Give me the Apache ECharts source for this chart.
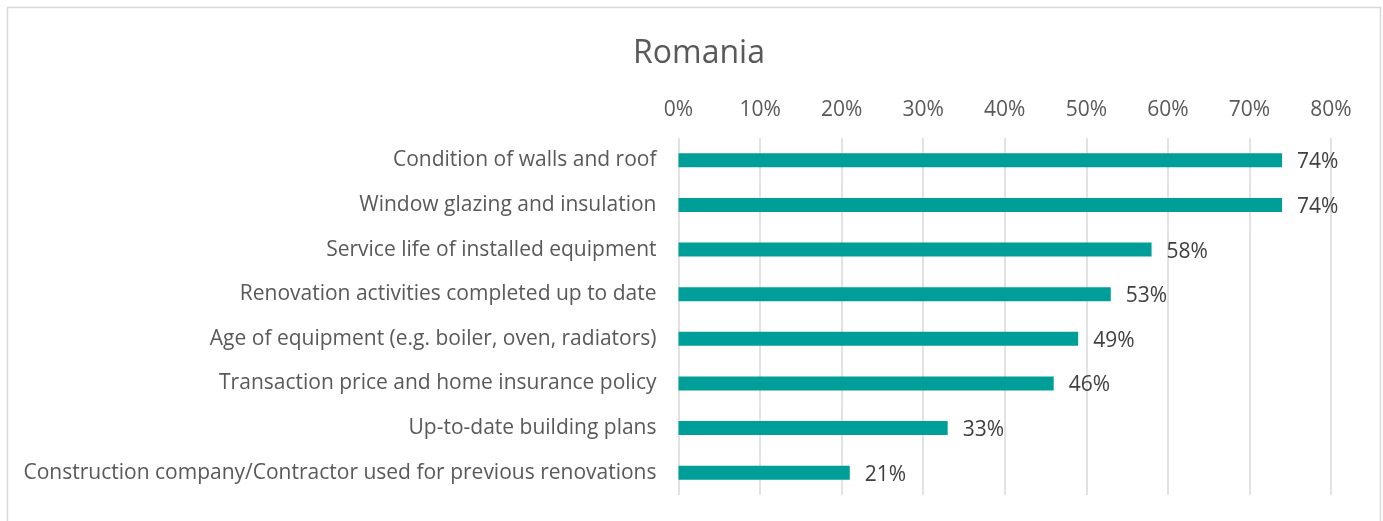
<!DOCTYPE html>
<html>
<head>
<meta charset="utf-8">
<style>
  html, body { margin: 0; padding: 0; background: #fff; }
  #chart { width: 1383px; height: 521px; }
</style>
<script src="https://cdn.jsdelivr.net/npm/echarts@6/dist/echarts.min.js"></script>
</head>
<body>
<div id="chart"></div>
<script>
// Factors considered, top to bottom
const categories = [
  'Condition of walls and roof',
  'Window glazing and insulation',
  'Service life of installed equipment',
  'Renovation activities completed up to date',
  'Age of equipment (e.g. boiler, oven, radiators)',
  'Transaction price and home insurance policy',
  'Up-to-date building plans',
  'Construction company/Contractor used for previous renovations'
];
// Share of respondents, percent
const shares = [74, 74, 58, 53, 49, 46, 33, 21];
// Value axis ticks, percent
const tickValues = [0, 10, 20, 30, 40, 50, 60, 70, 80];

const FONT = 'Open Sans';
const chart = echarts.init(document.getElementById('chart'), null, { renderer: 'canvas' });

chart.setOption({
  animation: false,
  backgroundColor: '#ffffff',
  title: {
    text: 'Romania',
    left: 694,
    textAlign: 'center',
    top: 33,
    textStyle: { fontFamily: FONT, fontSize: 32, fontWeight: 'normal', color: '#595959' }
  },
  graphic: [{
    type: 'rect',
    shape: { x: 7.5, y: 7.5, width: 1373, height: 530 },
    style: { fill: 'none', stroke: '#d9d9d9', lineWidth: 1.5 },
    silent: true
  }],
  grid: { left: 678.5, right: 52, top: 138, bottom: 26, containLabel: false },
  xAxis: {
    type: 'value',
    position: 'top',
    min: tickValues[0],
    max: tickValues[tickValues.length - 1],
    interval: tickValues[1] - tickValues[0],
    axisLine: { show: false },
    axisTick: { show: false },
    axisLabel: {
      formatter: v => v + '%',
      fontFamily: FONT, fontSize: 21, color: '#595959', margin: 17
    },
    splitLine: { show: true, lineStyle: { color: '#d9d9d9', width: 1.5 } }
  },
  yAxis: {
    type: 'category',
    inverse: true,
    data: categories,
    axisLine: { show: false },
    axisTick: { show: false },
    axisLabel: {
      fontFamily: FONT, fontSize: 21, color: '#595959', margin: 22,
      padding: [4, 0, 0, 0]
    }
  },
  series: [{
    type: 'bar',
    data: shares,
    barWidth: 14,
    itemStyle: { color: '#009E99' },
    label: {
      show: true,
      position: 'right',
      distance: 15,
      offset: [0, 2],
      formatter: p => p.value + '%',
      fontFamily: FONT, fontSize: 21, color: '#404040'
    }
  }]
});
</script>
</body>
</html>
